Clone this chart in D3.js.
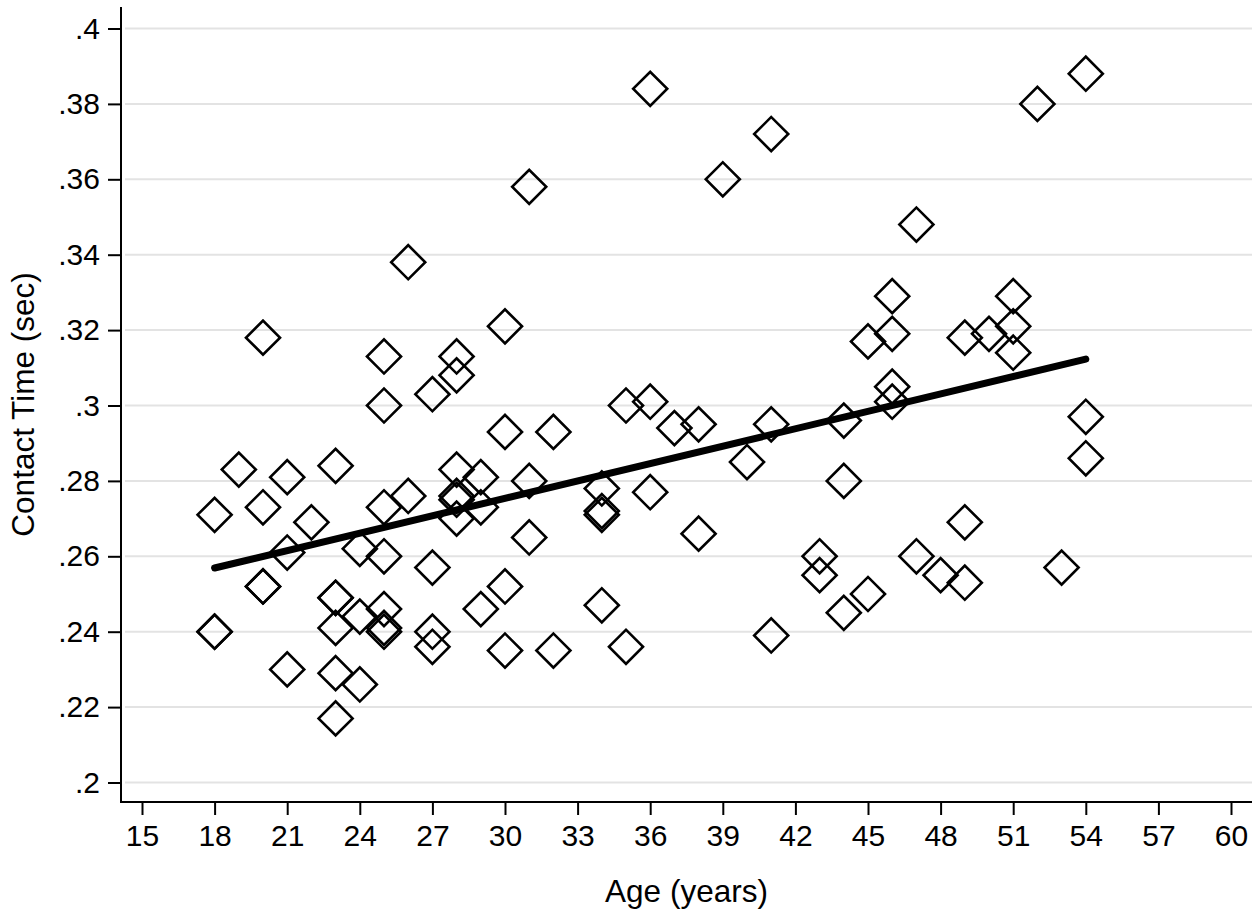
<!DOCTYPE html>
<html>
<head>
<meta charset="utf-8">
<script src="https://cdn.jsdelivr.net/npm/d3@7"></script>
<style>
  html, body { margin: 0; padding: 0; background: #fff; }
  svg { display: block; }
  text { font-family: "Liberation Sans", Arial, Helvetica, sans-serif; fill: #000; }
</style>
</head>
<body>
<svg id="chart" width="1260" height="916"></svg>
<script>
// ---- data ----
const ages = [
  18,18,18, 19, 20,20,20,20, 21,21,21, 22,
  23,23,23,23,23,23, 24,24,24,
  25,25,25,25,25,25,25, 26,26, 27,27,27,27,
  28,28,28,28,28,28, 29,29,29, 30,30,30,30,
  31,31,31, 32,32, 34,34,34,34, 35,35, 36,36,36,
  37, 38,38, 39, 40, 41,41,41, 43,43, 44,44,44,
  45,45, 46,46,46,46, 47,47, 48, 49,49,49, 50,
  51,51,51, 52, 53, 54,54,54
];
const contactTime = [
  .271,.240,.240, .283, .318,.273,.252,.252, .281,.261,.230, .269,
  .284,.249,.249,.241,.229,.217, .262,.244,.226,
  .313,.300,.273,.260,.246,.240,.241, .338,.276, .303,.257,.240,.236,
  .313,.308,.283,.276,.275,.270, .281,.273,.246, .321,.293,.252,.235,
  .358,.280,.265, .293,.235, .278,.272,.271,.247, .300,.236, .384,.301,.277,
  .294, .295,.266, .360, .285, .372,.295,.239, .260,.255, .296,.280,.245,
  .317,.250, .329,.319,.305,.301, .348,.260, .255, .318,.269,.253, .319,
  .329,.321,.314, .380, .257, .388,.297,.286
];
const fitAges = [18, 54];
const fitValues = [.2569, .3123];
const xTicks = [15,18,21,24,27,30,33,36,39,42,45,48,51,54,57,60];
const xTickLabels = ["15","18","21","24","27","30","33","36","39","42","45","48","51","54","57","60"];
const yTicks = [.2,.22,.24,.26,.28,.3,.32,.34,.36,.38,.4];
const yTickLabels = [".2",".22",".24",".26",".28",".3",".32",".34",".36",".38",".4"];
const xTitle = "Age (years)";
const yTitle = "Contact Time (sec)";

// ---- layout ----
const svg = d3.select("#chart");
const axisX = 121, axisY = 802, plotRight = 1252, plotTop = 7;
const x = d3.scaleLinear().domain([15, 60]).range([142, 1231]);
const y = d3.scaleLinear().domain([0.2, 0.4]).range([782.5, 28.5]);
const tickFont = 30, titleFont = 31.5;

// gridlines
svg.append("g").selectAll("line").data(yTicks).join("line")
  .attr("x1", axisX + 4).attr("x2", plotRight)
  .attr("y1", d => y(d)).attr("y2", d => y(d))
  .attr("stroke", "#e3e3e3").attr("stroke-width", 2);

// y axis
const yAxis = d3.axisLeft(y).tickValues(yTicks)
  .tickFormat((d, i) => yTickLabels[i]).tickSize(13).tickPadding(8).tickSizeOuter(0);
const gy = svg.append("g").attr("transform", `translate(${axisX},0)`).call(yAxis);
gy.select(".domain").remove();
gy.append("line").attr("x1", 0).attr("x2", 0).attr("y1", plotTop).attr("y2", axisY + 1)
  .attr("stroke", "#000").attr("stroke-width", 2);
gy.selectAll(".tick line").attr("stroke", "#000").attr("stroke-width", 2);
gy.selectAll(".tick text").attr("font-size", tickFont).attr("fill", "#000")
  .attr("font-family", '"Liberation Sans", Arial, sans-serif');

// x axis
const xAxis = d3.axisBottom(x).tickValues(xTicks)
  .tickFormat((d, i) => xTickLabels[i]).tickSize(13).tickPadding(10).tickSizeOuter(0);
const gx = svg.append("g").attr("transform", `translate(0,${axisY})`).call(xAxis);
gx.select(".domain").remove();
gx.append("line").attr("x1", axisX - 1).attr("x2", plotRight).attr("y1", 0).attr("y2", 0)
  .attr("stroke", "#000").attr("stroke-width", 2);
gx.selectAll(".tick line").attr("stroke", "#000").attr("stroke-width", 2);
gx.selectAll(".tick text").attr("font-size", tickFont).attr("fill", "#000")
  .attr("font-family", '"Liberation Sans", Arial, sans-serif');

// axis titles
svg.append("text").attr("x", (axisX + plotRight) / 2).attr("y", 902)
  .attr("text-anchor", "middle").attr("font-size", titleFont).text(xTitle);
svg.append("text").attr("transform", `translate(34,${(plotTop + axisY) / 2}) rotate(-90)`)
  .attr("text-anchor", "middle").attr("font-size", titleFont).text(yTitle);

// points (hollow diamonds)
const pts = ages.map((a, i) => ({ a, v: contactTime[i] }));
const diamond = d3.symbol().type(d3.symbolSquare).size(580);
svg.append("g").selectAll("path").data(pts).join("path")
  .attr("d", diamond)
  .attr("transform", d => `translate(${x(d.a)},${y(d.v)}) rotate(45)`)
  .attr("fill", "none").attr("stroke", "#000").attr("stroke-width", 2.6);

// fitted line
const fit = fitAges.map((a, i) => [a, fitValues[i]]);
svg.append("path").datum(fit)
  .attr("d", d3.line().x(d => x(d[0])).y(d => y(d[1])))
  .attr("fill", "none").attr("stroke", "#000").attr("stroke-width", 7)
  .attr("stroke-linecap", "round");
</script>
</body>
</html>
